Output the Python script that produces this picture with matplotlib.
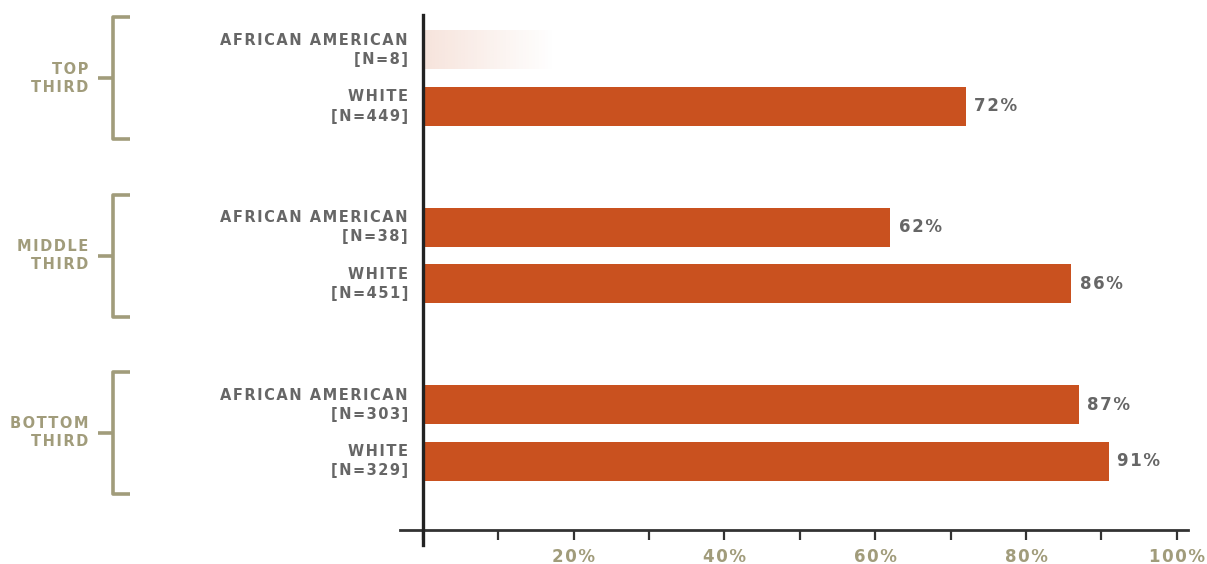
"""Completion rate by income third and race, horizontal bar chart."""

import matplotlib
matplotlib.use("Agg")
import matplotlib.pyplot as plt
import numpy as np
from matplotlib.transforms import blended_transform_factory

# data
groups = ["TOP\nTHIRD", "MIDDLE\nTHIRD", "BOTTOM\nTHIRD"]
races = ["AFRICAN AMERICAN", "WHITE"]
counts = [[8, 449], [38, 451], [303, 329]]
values = [[None, 72], [62, 86], [87, 91]]  # None: sample too small, shown faded
faded_extent = 17.5
xticks = list(range(0, 101, 10))
xtick_labels = ["", "", "20%", "", "40%", "", "60%", "", "80%", "", "100%"]

BAR = "#c9511f"
OLIVE = "#a19c7b"
GRAY = "#666666"
DARK = "#222222"


def spaced(text):
    # poor man's letter spacing with hair spaces
    return "\n".join("\u200a".join(line) for line in text.split("\n"))


fig = plt.figure(figsize=(12.07, 5.64), dpi=100)
ax = fig.add_axes([400 / 1207, 1 - 530 / 564, 788 / 1207, 515 / 564])
ax.set_xlim(-3.05, 101.5)
ax.set_ylim(8.5, -0.62)

group_gap = 3.14
bar_h = 0.69
trans = blended_transform_factory(fig.transFigure, ax.transData)

for g, label in enumerate(groups):
    base = g * group_gap
    for r, race in enumerate(races):
        y = base + r
        val = values[g][r]
        ax.text(-2.0, y, spaced(f"{race}\n[N={counts[g][r]}]"), ha="right", va="center",
                color=GRAY, fontsize=10.5, fontweight="bold", linespacing=1.35,
                clip_on=False)
        if val is None:
            grad = np.zeros((1, 256, 4))
            grad[..., :3] = matplotlib.colors.to_rgb(BAR)
            grad[..., 3] = np.linspace(0.16, 0.0, 256)
            ax.imshow(grad, extent=[0, faded_extent, y + bar_h / 2, y - bar_h / 2],
                      aspect="auto", interpolation="bilinear", zorder=2)
        else:
            ax.barh(y, val, height=bar_h, color=BAR, zorder=2)
            ax.annotate(spaced(f"{val}%"), (val, y), xytext=(6, 0), textcoords="offset points",
                        ha="left", va="center", color=GRAY, fontsize=12,
                        fontweight="bold")
    # bracket on the left
    mid = base + 0.5
    top, bot = mid - 1.08, mid + 1.08
    x_b, x_e, x_m = 113 / 1207, 130 / 1207, 98 / 1207
    kw = dict(color=OLIVE, lw=2.6, transform=trans, clip_on=False, solid_capstyle="butt")
    ax.plot([x_e, x_b, x_b, x_e], [top, top, bot, bot], **kw)
    ax.plot([x_m, x_b], [mid, mid], **kw)
    ax.text(88 / 1207, mid, spaced(label), transform=trans, ha="right", va="center",
            color=OLIVE, fontsize=10.5, fontweight="bold", linespacing=1.25)

ax.set_ylim(8.5, -0.62)
ax.set_xlim(-3.05, 101.5)

# axes styling
for side in ["top", "right", "left"]:
    ax.spines[side].set_visible(False)
ax.spines["bottom"].set_color("#333333")
ax.spines["bottom"].set_linewidth(2)
ax.plot([0, 0], [-0.62, 8.5 + 0.27], color=DARK, lw=2.4, clip_on=False, zorder=3)
ax.set_yticks([])
ax.set_xticks(xticks)
ax.set_xticklabels([spaced(t) for t in xtick_labels])
ax.tick_params(axis="x", direction="out", length=7, width=1.6, color="#333333",
               labelcolor=OLIVE, labelsize=12, pad=6)
for lab in ax.get_xticklabels():
    lab.set_fontweight("bold")

fig.savefig("out.png", dpi=100, facecolor="white")
